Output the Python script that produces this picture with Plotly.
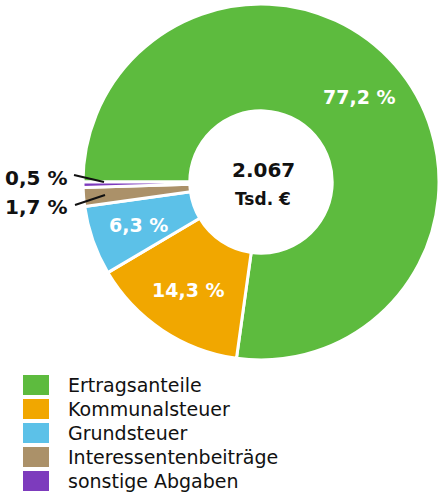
import math
import plotly.graph_objects as go

W, H = 439, 495

categories = ["Ertragsanteile", "Kommunalsteuer", "Grundsteuer",
              "Interessentenbeiträge", "sonstige Abgaben"]
shares = [77.2, 14.3, 6.3, 1.7, 0.5]
colors = ["#5dbb3e", "#f1a700", "#5cc1e8", "#ab9169", "#7d3bbd"]
total_tsd = 2067
center_unit = "Tsd. €"

FONT = "DejaVu Sans"

def px(x):
    return x / W

def py(y):
    return 1 - y / H

def fmt(v):
    return f"{v:.1f}".replace(".", ",") + " %"

ROT = 270
CX, CY, R_OUT = 261, 182, 178

fig = go.Figure()
fig.add_trace(go.Pie(
    labels=categories,
    values=shares,
    textinfo="none",
    marker=dict(colors=colors, line=dict(color="white", width=3)),
    hole=0.40,
    sort=False,
    direction="clockwise",
    rotation=ROT,
    showlegend=False,
    domain=dict(x=[max(0, px(CX - R_OUT)), min(1, px(CX + R_OUT))],
                y=[max(0, py(CY + R_OUT)), min(1, py(CY - R_OUT))]),
))

annotations = []
shapes = []

# slice labels placed at mid-angle of each slice, mid-ring
tot = sum(shares)
cum = 0.0
for v in shares:
    mid = ROT + (cum + v / 2) / tot * 360
    cum += v
    if v < 5:
        continue
    a = math.radians(mid)
    r = 130
    x = CX + r * math.sin(a)
    y = CY - r * math.cos(a)
    annotations.append(dict(x=px(x), y=py(y), xref="paper", yref="paper",
                            xanchor="center", yanchor="middle", text=fmt(v),
                            showarrow=False,
                            font=dict(family=FONT, size=19, color="white", weight="bold")))

# centre label
annotations.append(dict(x=px(263), y=py(170), xref="paper", yref="paper",
                        yanchor="middle",
                        text=f"{total_tsd:,}".replace(",", "."), showarrow=False,
                        font=dict(family=FONT, size=20, color="#111", weight="bold")))
annotations.append(dict(x=px(263), y=py(199), xref="paper", yref="paper",
                        yanchor="middle", text=center_unit, showarrow=False,
                        font=dict(family=FONT, size=17, color="#111", weight="bold")))

# outside labels for small slices
small = [(4, 178, (74, 175), (104, 182)), (3, 207, (75, 205), (105, 195))]
for idx, ty, p0, p1 in small:
    annotations.append(dict(x=px(69), y=py(ty), xref="paper", yref="paper",
                            xanchor="right", yanchor="middle",
                            text=fmt(shares[idx]), showarrow=False,
                            font=dict(family=FONT, size=20, color="#111", weight="bold")))
    shapes.append(dict(type="line", xref="paper", yref="paper",
                       x0=px(p0[0]), y0=py(p0[1]), x1=px(p1[0]), y1=py(p1[1]),
                       line=dict(color="#111", width=2)))

# legend
for i, (cat, col) in enumerate(zip(categories, colors)):
    top = 375 + 24 * i
    shapes.append(dict(type="rect", xref="paper", yref="paper",
                       x0=px(23), x1=px(49), y0=py(top + 20), y1=py(top),
                       fillcolor=col, line=dict(width=0)))
    annotations.append(dict(x=px(66), y=py(top + 10), xref="paper", yref="paper",
                            xanchor="left", yanchor="middle", text=cat, showarrow=False,
                            font=dict(family=FONT, size=19, color="#111")))

fig.update_layout(
    width=W, height=H,
    margin=dict(l=0, r=0, t=0, b=0),
    paper_bgcolor="white",
    plot_bgcolor="white",
    annotations=annotations,
    shapes=shapes,
)

fig.write_html("out.html")
